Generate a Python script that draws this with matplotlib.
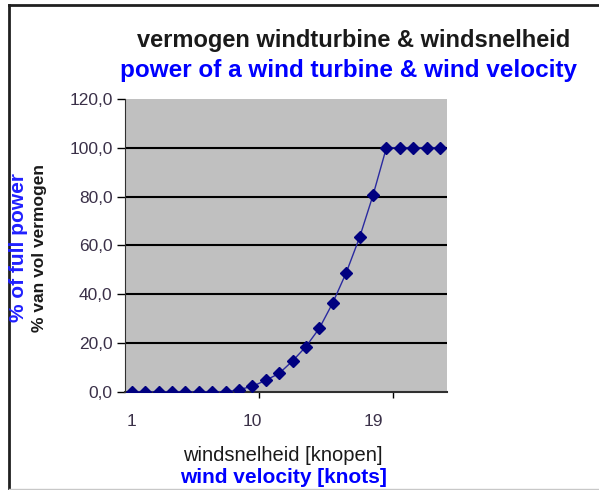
import matplotlib
matplotlib.use("Agg")
import matplotlib.pyplot as plt
from matplotlib.lines import Line2D

plt.rcParams['font.family'] = ['Liberation Sans', 'DejaVu Sans']

# wind speed categories (knots) and % of full power
knots = list(range(1, 25))
power = [0, 0, 0, 0, 0, 0, 0, 0, 1.0, 2.3, 4.8, 7.6, 12.7, 18.6, 26.1,
         36.5, 48.8, 63.3, 80.5, 100, 100, 100, 100, 100]
x_labels = [1, 10, 19]
y_ticks = [0, 20, 40, 60, 80, 100, 120]

fig = plt.figure(figsize=(5.99, 4.90), dpi=100)
ax = fig.add_axes([0.2087, 0.2, 0.537, 0.598])

ax.set_facecolor('#c0c0c0')
ax.plot(knots, power, color='#2a2aa0', lw=1.0, marker='D', markersize=6.5,
        markerfacecolor='#000080', markeredgecolor='#000080', zorder=3)

ax.set_xlim(0.5, 24.5)
ax.set_ylim(0, 120)
ax.set_yticks(y_ticks)
ax.set_yticklabels([f"{v:.1f}".replace('.', ',') for v in y_ticks])
for v in y_ticks[1:-1]:
    ax.axhline(v, color='black', lw=1.5, zorder=1)

ax.set_xticks(x_labels)
ax.set_xticklabels([str(v) for v in x_labels])
ax.set_xticks([10.5, 20.5], minor=True)
ax.tick_params(axis='x', which='major', length=0, pad=16, labelsize=12.5,
               labelcolor='#3a3048')
ax.tick_params(axis='x', which='minor', length=4, width=1, direction='out')
ax.tick_params(axis='y', length=6, width=1, direction='out', labelsize=12.5,
               labelcolor='#3a3048', pad=3)

for s in ['top', 'right']:
    ax.spines[s].set_visible(False)
ax.spines['left'].set_color('#303030')
ax.spines['bottom'].set_color('#303030')
ax.spines['bottom'].set_linewidth(1.5)

# titles
fig.text(354 / 599, 1 - 40 / 490, "vermogen windturbine & windsnelheid", ha='center',
         va='center', fontsize=17, fontweight='bold', color='#1a1a1a')
fig.text(349 / 599, 1 - 70 / 490, "power of a wind turbine & wind velocity", ha='center',
         va='center', fontsize=17.5, fontweight='bold', color='#0000ff')

# axis labels
fig.text(19 / 599, 1 - 248 / 490, "% of full power", rotation=90, ha='center',
         va='center', fontsize=15, fontweight='bold', color='#2020ff')
fig.text(40 / 599, 1 - 248 / 490, "% van vol vermogen", rotation=90, ha='center',
         va='center', fontsize=12.5, fontweight='bold', color='#1a1a1a')
fig.text(283 / 599, 1 - 455 / 490, "windsnelheid [knopen]", ha='center',
         va='center', fontsize=14.5, color='#1a1a1a')
fig.text(283 / 599, 1 - 477 / 490, "wind velocity [knots]", ha='center',
         va='center', fontsize=15, fontweight='bold', color='#0000ff')

# outer frame
fig.add_artist(Line2D([8.5 / 599, 8.5 / 599], [0, 1 - 5.5 / 490], color='#202020',
                      lw=2, transform=fig.transFigure))
fig.add_artist(Line2D([8.5 / 599, 1], [1 - 5.5 / 490, 1 - 5.5 / 490], color='#202020',
                      lw=2, transform=fig.transFigure))
fig.add_artist(Line2D([8.5 / 599, 1], [1 - 488.5 / 490, 1 - 488.5 / 490], color='#c8c8c8',
                      lw=1, transform=fig.transFigure))

fig.savefig("out.png", dpi=100)
